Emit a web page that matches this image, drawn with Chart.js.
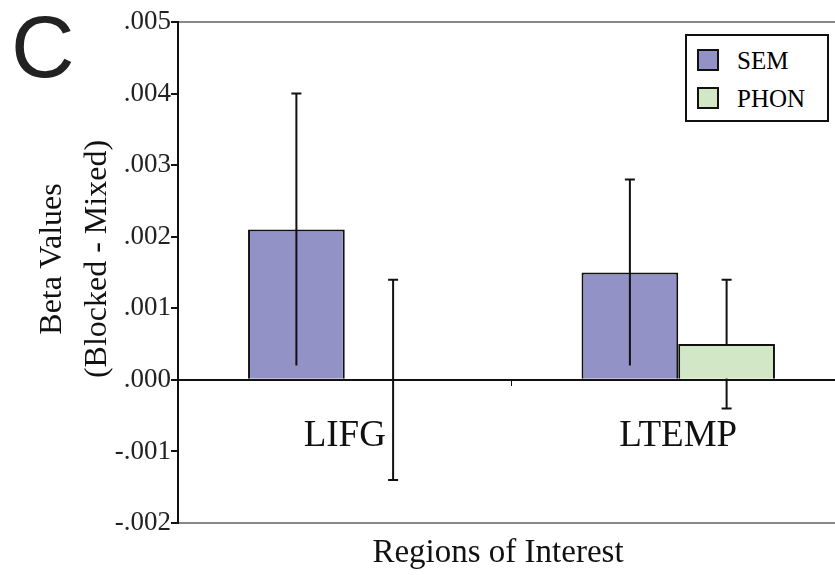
<!DOCTYPE html>
<html>
<head>
<meta charset="utf-8">
<script src="https://cdn.jsdelivr.net/npm/chart.js@4.4.1/dist/chart.umd.min.js"></script>
<style>
    body { margin: 0; overflow: hidden; background: #fff; font-family: "Liberation Serif", serif; }
    #wrap { position: relative; width: 835px; height: 575px; overflow: hidden; }
    #chart { position: absolute; left: 0; top: 0; }
    .txt { position: absolute; color: #111; white-space: nowrap; }
    #panel { left: 11px; top: -4px; font-family: "Liberation Sans", sans-serif; font-size: 88px; color: #222; }
    .ytitle { font-size: 32px; transform-origin: center; transform: translate(-50%, -50%) rotate(-90deg); }
    #xtitle { left: 498px; top: 551px; font-size: 33px; transform: translate(-50%, -50%); }
    #legend { position: absolute; left: 685px; top: 34px; width: 140px; height: 84px; border: 2px solid #111; background: #fff; }
    .item { position: absolute; left: 10px; font-size: 25px; line-height: 25px; }
    .sw { display: inline-block; width: 18px; height: 18px; border: 2px solid #111; vertical-align: -2px; margin-right: 18px; }
</style>
</head>
<body>
<div id="wrap">
    <canvas id="chart" width="850" height="575"></canvas>
    <div class="txt" id="panel">C</div>
    <div class="txt ytitle" style="left:50px; top:259px;">Beta Values</div>
    <div class="txt ytitle" style="left:95px; top:259px;">(Blocked - Mixed)</div>
    <div class="txt" id="xtitle">Regions of Interest</div>
    <div id="legend"></div>
</div>
<script>
    // data
    const regions = ["LIFG", "LTEMP"];
    const seriesNames = ["SEM", "PHON"];
    const semValues = [0.0021, 0.0015];
    const semErrors = [0.0019, 0.0013];
    const phonValues = [0.0, 0.0005];
    const phonErrors = [0.0014, 0.0009];
    const yTickLabels = [".005", ".004", ".003", ".002", ".001", ".000", "-.001", "-.002"];

    const semColor = "#9392c7";
    const phonColor = "#d1e7c5";

    // legend in html
    const legend = document.getElementById("legend");
    [semColor, phonColor].forEach((c, i) => {
        const item = document.createElement("div");
        item.className = "item";
        item.style.top = (12 + i * 38) + "px";
        item.innerHTML = '<span class="sw" style="background:' + c + '"></span>' + seriesNames[i];
        legend.appendChild(item);
    });

    function drawErrors(chart, dsIndex, errs, capLow) {
        const ctx = chart.ctx;
        const y = chart.scales.y;
        const meta = chart.getDatasetMeta(dsIndex);
        const vals = chart.data.datasets[dsIndex].data;
        ctx.save();
        ctx.strokeStyle = "#111";
        ctx.lineWidth = 2;
        meta.data.forEach((bar, i) => {
            const x = bar.x;
            const top = y.getPixelForValue(vals[i] + errs[i]);
            const bot = y.getPixelForValue(vals[i] - errs[i]);
            ctx.beginPath();
            ctx.moveTo(x, top);
            ctx.lineTo(x, bot);
            ctx.moveTo(x - 5, top);
            ctx.lineTo(x + 5, top);
            if (capLow) {
                ctx.moveTo(x - 5, bot);
                ctx.lineTo(x + 5, bot);
            }
            ctx.stroke();
        });
        ctx.restore();
    }

    const errorBars = {
        id: "errorBars",
        beforeDatasetsDraw(chart) {
            drawErrors(chart, 1, phonErrors, true);
        },
        afterDatasetsDraw(chart) {
            drawErrors(chart, 0, semErrors, false);
        }
    };

    // gray frame lines at top and bottom of the plot
    const frame = {
        id: "frame",
        beforeDraw(chart) {
            const a = chart.chartArea;
            const ctx = chart.ctx;
            ctx.save();
            ctx.strokeStyle = "#888";
            ctx.lineWidth = 2;
            ctx.beginPath();
            ctx.moveTo(a.left, a.top);
            ctx.lineTo(a.right + 20, a.top);
            ctx.moveTo(a.left, a.bottom);
            ctx.lineTo(a.right + 20, a.bottom);
            ctx.stroke();
            ctx.restore();
        }
    };

    new Chart(document.getElementById("chart"), {
        type: "bar",
        data: {
            labels: regions,
            datasets: [
                { label: seriesNames[0], data: semValues, backgroundColor: semColor, borderColor: "#111", borderWidth: 2 },
                { label: seriesNames[1], data: phonValues, backgroundColor: phonColor, borderColor: "#111", borderWidth: 2 }
            ]
        },
        options: {
            responsive: false,
            animation: false,
            layout: { padding: { left: 0, top: 22, right: 5, bottom: 52 } },
            datasets: { bar: { categoryPercentage: 0.58, barPercentage: 1.0 } },
            plugins: { legend: { display: false }, tooltip: { enabled: false } },
            scales: {
                x: {
                    position: { y: 0 },
                    grid: { offset: true, drawOnChartArea: false, color: "#111", tickLength: 5, lineWidth: 1 },
                    border: { color: "#111", width: 2 },
                    ticks: { color: "#111", padding: 29, font: { family: "Liberation Serif", size: 37 } }
                },
                y: {
                    min: -0.002,
                    max: 0.005,
                    afterFit(scale) { scale.width = 178; },
                    grid: { drawOnChartArea: false, color: "#111", tickLength: 7, lineWidth: 2 },
                    border: { color: "#111", width: 2 },
                    ticks: {
                        stepSize: 0.001,
                        color: "#222",
                        padding: 0,
                        font: { family: "Liberation Serif", size: 27 },
                        callback: (v, i, ticks) => yTickLabels[ticks.length - 1 - i]
                    }
                }
            }
        },
        plugins: [frame, errorBars]
    });
</script>
</body>
</html>
